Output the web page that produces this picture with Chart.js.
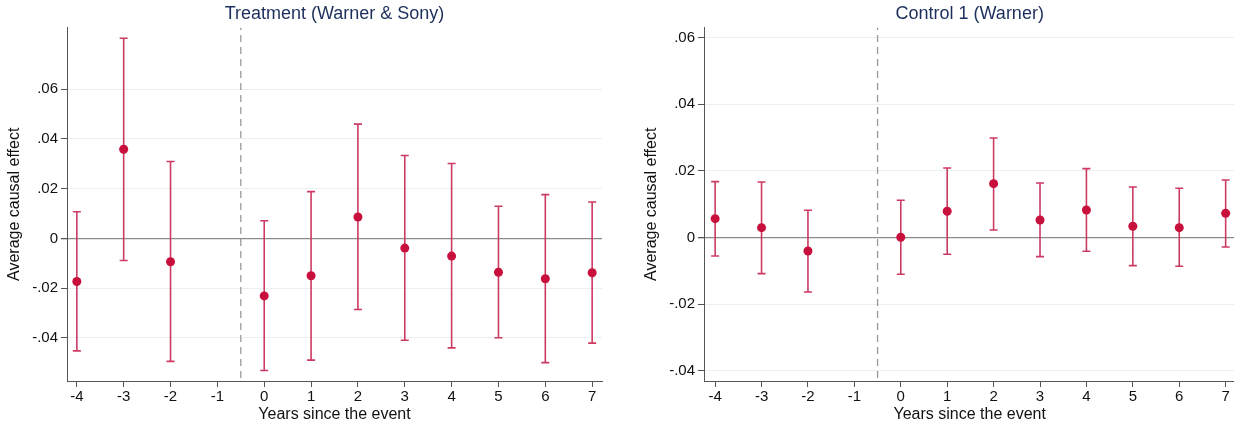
<!DOCTYPE html>
<html>
<head>
<meta charset="utf-8">
<script src="https://cdn.jsdelivr.net/npm/chart.js@4.4.1/dist/chart.umd.min.js"></script>
<style>
  html, body { margin: 0; padding: 0; background: #fff; }
  #wrap { width: 1234px; height: 423px; position: relative; overflow: hidden; }
  .box { position: absolute; top: 0; height: 423px; }
  #box1 { left: 0; width: 617px; }
  #box2 { left: 617px; width: 624px; }
</style>
</head>
<body>
<div id="wrap">
  <div class="box" id="box1"><canvas id="chart1"></canvas></div>
  <div class="box" id="box2"><canvas id="chart2"></canvas></div>
</div>
<script>
// years relative to the event
const years = [-4, -3, -2, 0, 1, 2, 3, 4, 5, 6, 7];
const xTicks = [-4, -3, -2, -1, 0, 1, 2, 3, 4, 5, 6, 7];
const eventLine = -0.5;

// Treatment (Warner & Sony)
const treatEst = [-0.0173, 0.0358, -0.0094, -0.0231, -0.0150, 0.0086, -0.0039, -0.0071, -0.0136, -0.0162, -0.0138];
const treatHi  = [0.0107, 0.0804, 0.0309, 0.0071, 0.0188, 0.0459, 0.0333, 0.0301, 0.0129, 0.0176, 0.0146];
const treatLo  = [-0.0452, -0.0089, -0.0494, -0.0531, -0.0489, -0.0286, -0.0409, -0.0440, -0.0399, -0.0499, -0.0421];
const treatTicks = [-0.04, -0.02, 0, 0.02, 0.04, 0.06];

// Control 1 (Warner)
const ctrlEst = [0.0057, 0.0030, -0.0040, 0.0001, 0.0079, 0.0162, 0.0053, 0.0083, 0.0034, 0.0030, 0.0073];
const ctrlHi  = [0.0168, 0.0167, 0.0082, 0.0112, 0.0209, 0.0299, 0.0164, 0.0207, 0.0152, 0.0148, 0.0173];
const ctrlLo  = [-0.0055, -0.0108, -0.0163, -0.0110, -0.0050, 0.0023, -0.0057, -0.0041, -0.0084, -0.0086, -0.0028];
const ctrlTicks = [-0.04, -0.02, 0, 0.02, 0.04, 0.06];

const dotColor = '#c8103c';
const barColor = '#cc3a62';
const fontFam = '"Liberation Sans", Arial, Helvetica, sans-serif';

function fmt(v) {
    if (Math.abs(v) < 1e-9) return '0';
    let s = v.toFixed(2);
    return s.replace('0.', '.');
}

function makeChart(id, title, est, hi, lo, yTicks, yMin, yMax, xMin, xMax, axisWidth, titlePad, rightPad) {
    // whiskers: pairs of points split by null gaps
    const whiskers = [];
    years.forEach((yr, i) => {
        whiskers.push({ x: yr, y: lo[i] });
        whiskers.push({ x: yr, y: hi[i] });
        whiskers.push({ x: yr, y: null });
    });
    const ctx = document.getElementById(id).getContext('2d');
    return new Chart(ctx, {
        type: 'scatter',
        data: {
            datasets: [
                {
                    data: years.map((yr, i) => ({ x: yr, y: est[i] })),
                    backgroundColor: dotColor,
                    borderColor: dotColor,
                    pointRadius: 4.5,
                    borderWidth: 0,
                    order: 0
                },
                {
                    data: whiskers,
                    showLine: true,
                    spanGaps: false,
                    borderColor: barColor,
                    borderWidth: 1.6,
                    pointStyle: 'line',
                    pointRadius: 4,
                    pointBorderWidth: 1.6,
                    pointBorderColor: barColor,
                    order: 1
                },
                {
                    data: [{ x: eventLine, y: yMin }, { x: eventLine, y: yMax }],
                    showLine: true,
                    borderColor: '#999',
                    borderWidth: 1.3,
                    borderDash: [7, 5],
                    borderDashOffset: -3,
                    pointRadius: 0,
                    order: 2
                }
            ]
        },
        options: {
            responsive: true,
            maintainAspectRatio: false,
            animation: false,
            layout: { padding: { left: 0, right: rightPad, top: 0, bottom: 0 } },
            plugins: {
                legend: { display: false },
                tooltip: { enabled: false },
                title: { display: false }
            },
            scales: {
                // top axis only carries the panel title, centred over the plot area
                top: {
                    type: 'linear',
                    position: 'top',
                    min: xMin,
                    max: xMax,
                    ticks: { display: false },
                    grid: { display: false, drawTicks: false },
                    border: { display: false },
                    title: {
                        display: true,
                        text: title,
                        color: '#1c2f5c',
                        font: { family: fontFam, size: 18 },
                        padding: { top: 3, bottom: 3 }
                    }
                },
                x: {
                    type: 'linear',
                    min: xMin,
                    max: xMax,
                    afterBuildTicks: s => { s.ticks = xTicks.map(v => ({ value: v })); },
                    ticks: {
                        color: '#111',
                        font: { family: fontFam, size: 15, lineHeight: 0.8 },
                        padding: 4,
                        maxRotation: 0,
                        callback: v => String(v)
                    },
                    grid: { drawOnChartArea: false, drawTicks: true, tickLength: 6, tickColor: '#555' },
                    border: { color: '#555', width: 1 },
                    title: {
                        display: true,
                        text: 'Years since the event',
                        color: '#111',
                        font: { family: fontFam, size: 16, lineHeight: 1.0 },
                        padding: { top: 0, bottom: 0 }
                    }
                },
                y: {
                    min: yMin,
                    max: yMax,
                    afterBuildTicks: s => { s.ticks = yTicks.map(v => ({ value: v })); },
                    afterFit: s => { s.width = axisWidth; },
                    ticks: {
                        color: '#111',
                        font: { family: fontFam, size: 15 },
                        padding: 3,
                        callback: v => fmt(v)
                    },
                    grid: {
                        color: c => (c.tick && Math.abs(c.tick.value) < 1e-9) ? '#8a8a8a' : '#e8f0f1',
                        lineWidth: c => (c.tick && Math.abs(c.tick.value) < 1e-9) ? 1.3 : 1,
                        tickLength: 6,
                        tickColor: '#555'
                    },
                    border: { color: '#555', width: 1 },
                    title: {
                        display: true,
                        text: 'Average causal effect',
                        color: '#111',
                        font: { family: fontFam, size: 16 },
                        padding: { top: titlePad, bottom: 0 }
                    }
                }
            }
        }
    });
}

makeChart('chart1', 'Treatment (Warner & Sony)', treatEst, treatHi, treatLo, treatTicks,
          -0.0573, 0.0847, -4.21, 7.21, 67, 5, 15);
makeChart('chart2', 'Control 1 (Warner)', ctrlEst, ctrlHi, ctrlLo, ctrlTicks,
          -0.043, 0.063, -4.24, 7.21, 87, 25, 0);
</script>
</body>
</html>
